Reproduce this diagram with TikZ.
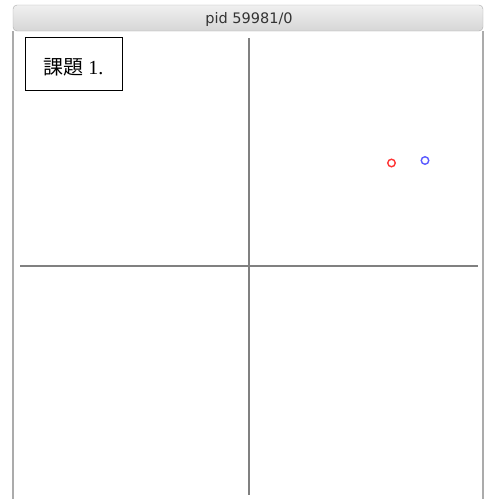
\documentclass[tikz,border=0pt]{standalone}
\usepackage{fontspec}
\setmainfont{Liberation Serif}
\newfontfamily\cjk{Noto Sans CJK JP}
\newfontfamily\titlefont{DejaVu Sans}
\colorlet{axis line}{black!50}
\colorlet{frame edge}{black!33}
\tikzset{axis/.style={draw=axis line, line width=2pt},
    point/.style={circle, draw, line width=1.4pt, inner sep=0pt, minimum size=7.5pt},
    label box/.style={draw, line width=0.8pt, minimum width=97pt, minimum height=53pt,
                      text height=27pt, text depth=6pt,
                      font=\fontsize{20}{20}\selectfont}}

\begin{document}
\begin{tikzpicture}[x=1pt, y=-1pt]
    \useasboundingbox (0,0) rectangle (491,499);
    % window
    \draw[frame edge, top color=black!6, bottom color=black!16, rounded corners=4pt]
        (13,31) -- (13,5) -- (483,5) -- (483,31) -- cycle;
    \draw[frame edge, line width=2pt] (13,31) -- (13,499)
                                      (483,31) -- (483,499);
    \node[font=\titlefont\fontsize{14.5}{14.5}\selectfont, text=black!80] (title) at (249,19) {pid 59981/0};
    % axes
    \coordinate (west) at (20,266);
    \coordinate (east) at (478,266);
    \coordinate (north) at (249,38);
    \coordinate (south) at (249,495);
    \draw[axis] (west) -- (east);
    \draw[axis] (north) -- (south);
    \node[label box] (task) at (73.5,63.5) {{\cjk 課題} 1.};
    \node[point, draw=red!80] (p1) at (391.5,163) {};
    \node[point, draw=blue!65] (p2) at (425,160.5) {};
\end{tikzpicture}
\end{document}
